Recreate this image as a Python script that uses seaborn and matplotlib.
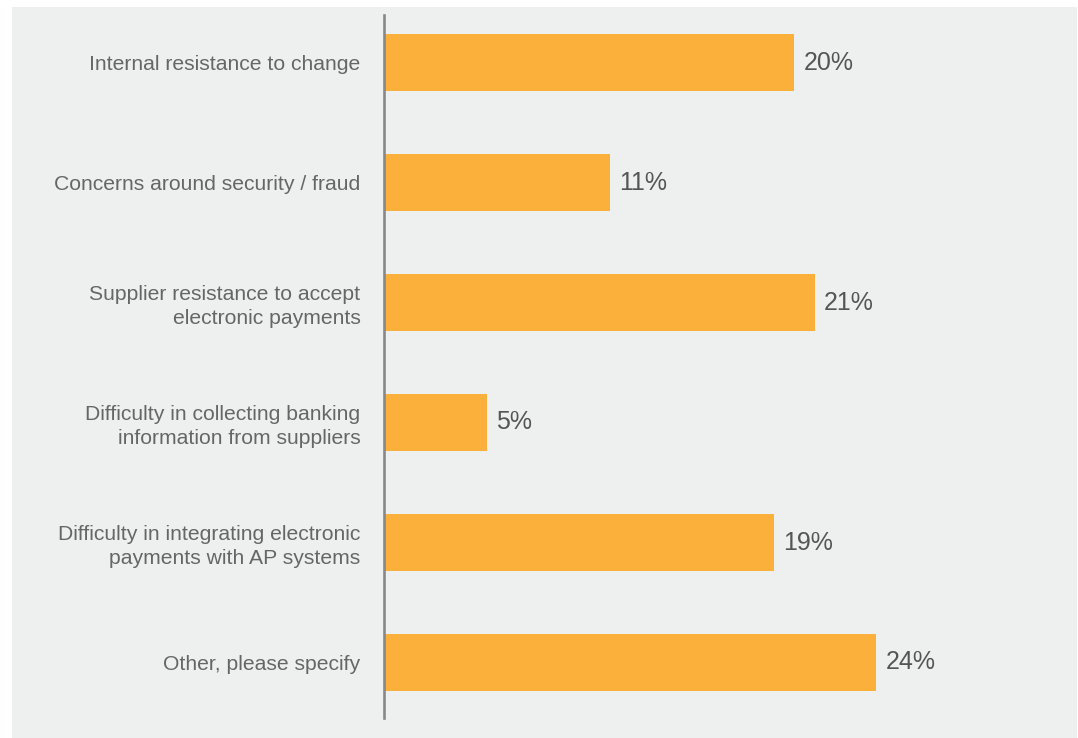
import matplotlib
matplotlib.use("Agg")
import matplotlib.pyplot as plt
import seaborn as sns
import pandas as pd
from matplotlib.patches import Rectangle

categories = [
    "Internal resistance to change",
    "Concerns around security / fraud",
    "Supplier resistance to accept\nelectronic payments",
    "Difficulty in collecting banking\ninformation from suppliers",
    "Difficulty in integrating electronic\npayments with AP systems",
    "Other, please specify",
]
values = [20, 11, 21, 5, 19, 24]

df = pd.DataFrame({"category": categories, "value": values})

sns.set_theme(style="white")
plt.rcParams["font.family"] = ["Liberation Sans", "DejaVu Sans"]

W, H = 1078, 738
panel = "#eef0ef"
bar_color = "#fbb03b"

fig = plt.figure(figsize=(W / 100, H / 100), dpi=100, facecolor="white")
fig.patches.append(Rectangle((12 / W, 0), (1077 - 12) / W, (H - 7) / H,
                             transform=fig.transFigure, facecolor=panel,
                             edgecolor="none", zorder=-10))

# axes placement in pixels
ax_left, ax_right = 384, 1060
ax_top, ax_bottom = 15, 718
ax = fig.add_axes([ax_left / W, 1 - ax_bottom / H,
                   (ax_right - ax_left) / W, (ax_bottom - ax_top) / H])
ax.set_facecolor("none")

sns.barplot(data=df, y="category", x="value", orient="h", color=bar_color,
            width=0.483, saturation=1, linewidth=0, edgecolor="none", ax=ax)

px_per_unit = 20.5
ax.set_xlim(0, (ax_right - ax_left) / px_per_unit)
# top of axes is 47.5 px above first bar centre, bottom 55.5 px below last
ax.set_ylim(5 + 55.5 / 120, -47.5 / 120)

for c in ax.containers:
    ax.bar_label(c, labels=[f"{v}%" for v in values], padding=7,
                 fontsize=18, color="#555555")

ax.set_xlabel("")
ax.set_ylabel("")
ax.set_xticks([])
ax.set_yticks(range(len(categories)))
ax.set_yticklabels(categories, linespacing=1.32, ha="right")
ax.tick_params(axis="y", length=0, pad=17, labelsize=15.2, labelcolor="#666666")

for s in ["top", "right", "bottom"]:
    ax.spines[s].set_visible(False)
ax.spines["left"].set_color("#888888")
ax.spines["left"].set_linewidth(1.9)

fig.savefig("out.png", dpi=100, facecolor="white")
